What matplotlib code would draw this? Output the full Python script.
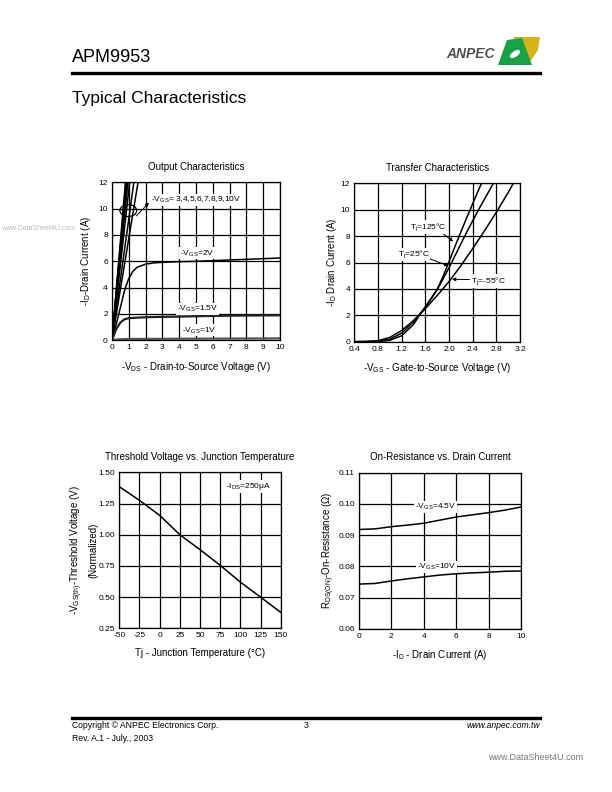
import numpy as np
import matplotlib
matplotlib.use("Agg")
import matplotlib.pyplot as plt
from matplotlib.patches import Ellipse, Polygon

plt.rcParams['font.family'] = ['Liberation Sans', 'DejaVu Sans']
plt.rcParams['mathtext.fontset'] = 'custom'
plt.rcParams['mathtext.rm'] = 'Liberation Sans'
plt.rcParams['mathtext.it'] = 'Liberation Sans:italic'
plt.rcParams['mathtext.default'] = 'regular'
plt.rcParams['axes.unicode_minus'] = False

W, H = 612, 792

# --- Output characteristics (VDS in V, ID in A)
vds = [0, 0.25, 0.5, 0.75, 1, 1.25, 1.5, 2, 2.5, 3, 4, 5, 6, 7, 8, 9, 10]
id_vgs2 = [0, 1.2, 2.5, 3.8, 4.7, 5.25, 5.55, 5.78, 5.88, 5.92, 5.97, 6.0, 6.05, 6.1, 6.15, 6.2, 6.25]
id_vgs15 = [0, 0.85, 1.35, 1.6, 1.68, 1.7, 1.72, 1.75, 1.77, 1.78, 1.8, 1.83, 1.85, 1.87, 1.88, 1.89, 1.9]
id_vgs1 = [0, 0.06, 0.08, 0.09, 0.1, 0.1, 0.1, 0.11, 0.11, 0.11, 0.12, 0.12, 0.13, 0.13, 0.14, 0.14, 0.15]
vgs_high = [3, 4, 5, 6, 7, 8, 9, 10]
vds_at_12a = [1.55, 1.3, 1.05, 0.95, 0.9, 0.86, 0.83, 0.8]

# --- Transfer characteristics (VGS in V, ID in A)
vgs_125 = [0.4, 0.6, 0.8, 1.0, 1.2, 1.4, 1.5, 1.6, 1.7, 1.8, 1.9, 2.0, 2.1, 2.2, 2.3, 2.4, 2.5, 2.6]
id_125 = [0, 0, 0.01, 0.1, 0.45, 1.3, 2.0, 2.65, 3.3, 3.95, 4.95, 6.05, 7.2, 8.3, 9.4, 10.45, 11.5, 12.5]
vgs_25 = [0.4, 0.6, 0.8, 1.0, 1.2, 1.4, 1.5, 1.6, 1.7, 1.8, 1.9, 2.0, 2.1, 2.2, 2.3, 2.4, 2.5, 2.6, 2.7, 2.8]
id_25 = [0, 0.005, 0.03, 0.18, 0.65, 1.5, 2.05, 2.6, 3.25, 3.95, 4.75, 5.6, 6.5, 7.4, 8.3, 9.15, 10.0, 10.8, 11.6, 12.4]
vgs_m55 = [0.4, 0.6, 0.8, 1.0, 1.2, 1.4, 1.5, 1.6, 1.8, 2.0, 2.2, 2.4, 2.6, 2.8, 3.0, 3.1]
id_m55 = [0.005, 0.02, 0.08, 0.32, 0.85, 1.6, 2.05, 2.5, 3.5, 4.55, 5.75, 7.05, 8.4, 9.8, 11.3, 12.1]

# --- Threshold voltage vs junction temperature
tj = [-50, -25, 0, 25, 50, 75, 100, 125, 150]
vth_norm = [1.385, 1.275, 1.155, 1.0, 0.88, 0.755, 0.62, 0.5, 0.378]

# --- On-resistance vs drain current
id_a = [0, 1, 2, 3, 4, 5, 6, 7, 8, 9, 10]
rds_45 = [0.0918, 0.092, 0.0927, 0.0932, 0.0938, 0.0948, 0.0958, 0.0965, 0.0972, 0.098, 0.099]
rds_10 = [0.0743, 0.0745, 0.0753, 0.076, 0.0766, 0.0772, 0.0776, 0.0779, 0.0781, 0.0784, 0.0785]


def px(x, y):
    return x / W, 1 - y / H


def box(l, t, r, b):
    return [l / W, 1 - b / H, (r - l) / W, (b - t) / H]


def style(ax, title):
    ax.grid(True, color='k', lw=0.9)
    ax.tick_params(length=0, labelsize=6, pad=3)
    for s in ax.spines.values():
        s.set_linewidth(0.9)
    ax.set_title(title, fontsize=7, pad=9)


lbl = dict(fontsize=6, ha='center', va='center', zorder=5,
           bbox=dict(fc='white', ec='none', pad=0.6))
arr = dict(arrowstyle='-|>', lw=0.7, color='k', mutation_scale=5, shrinkA=0, shrinkB=0)

fig = plt.figure(figsize=(W / 100, H / 100), dpi=100)

# header
fig.text(*px(72, 57), "APM9953", fontsize=13, va='center', ha='left')
fig.add_artist(plt.Line2D([72 / W, 540 / W], [1 - 72.5 / H] * 2, color='k', lw=2.4))
fig.text(*px(72, 99), "Typical Characteristics", fontsize=12.5, va='center', ha='left')
fig.text(*px(495, 54), "ANPEC", fontsize=10, style='italic', weight='bold', color='#505050',
         ha='right', va='center')
fig.add_artist(Polygon([px(513, 37), px(540, 37), px(538, 50), px(530, 62)],
                       closed=True, fc='#d4b21c', ec='none', transform=fig.transFigure))
fig.add_artist(Polygon([px(498, 65), px(507, 40), px(522, 38), px(532, 65)],
                       closed=True, fc='#1aa047', ec='none', transform=fig.transFigure))
fig.add_artist(Ellipse(px(515, 54), 11 / W, 6 / H, angle=25, fc='white', ec='none',
                       transform=fig.transFigure))
fig.text(*px(1, 228), "www.DataSheet4U.com", fontsize=5, color='#bbbbbb', va='center', ha='left')

# Output characteristics
ax1 = fig.add_axes(box(112, 182.3, 280, 340.3))
style(ax1, "Output Characteristics")
for xe in vds_at_12a:
    ax1.plot([0, xe * 1.05], [0, 12 * 1.05], color='k', lw=1.1)
ax1.plot(vds, id_vgs2, color='k', lw=1.1)
ax1.plot(vds, id_vgs15, color='#222222', lw=1.6)
ax1.plot(vds, id_vgs1, color='#555555', lw=1.6)
ax1.set_xlim(0, 10)
ax1.set_ylim(0, 12)
ax1.set_xticks(range(0, 11))
ax1.set_yticks(range(0, 13, 2))
ax1.add_patch(Ellipse((0.97, 9.85), 1.0, 0.9, fill=False, lw=0.9, ec='k'))
ax1.annotate("", xy=(2.2, 10.45), xytext=(1.45, 9.45), arrowprops=arr)
ax1.text(2.35, 10.65, "-V$_{GS}$= 3,4,5,6,7,8,9,10V", ha='left', va='center', fontsize=6, zorder=5,
         bbox=dict(fc='white', ec='none', pad=0.6))
ax1.text(5.05, 6.6, "-V$_{GS}$=2V", **lbl)
ax1.text(5.1, 2.35, "-V$_{GS}$=1.5V", **lbl)
ax1.text(5.2, 0.75, "-V$_{GS}$=1V", **lbl)
ax1.set_xlabel("-V$_{DS}$ - Drain-to-Source Voltage (V)", fontsize=7, labelpad=6)
ax1.set_ylabel("-I$_D$-Drain Current (A)", fontsize=7, labelpad=4)

# Transfer characteristics
ax2 = fig.add_axes(box(354.3, 183.3, 520, 341.7))
style(ax2, "Transfer Characteristics")
ax2.plot(vgs_125, id_125, color='k', lw=1.1)
ax2.plot(vgs_25, id_25, color='k', lw=1.1)
ax2.plot(vgs_m55, id_m55, color='k', lw=1.1)
ax2.set_xlim(0.4, 3.2)
ax2.set_ylim(0, 12)
ax2.set_xticks(np.arange(0.4, 3.21, 0.4))
ax2.set_xticklabels([f"{v:.1f}" for v in np.arange(0.4, 3.21, 0.4)])
ax2.set_yticks(range(0, 13, 2))
ax2.annotate("", xy=(2.07, 7.6), xytext=(1.85, 8.35), arrowprops=arr)
ax2.text(1.65, 8.7, "T$_j$=125°C", **lbl)
ax2.annotate("", xy=(1.99, 5.75), xytext=(1.6, 6.4), arrowprops=arr)
ax2.text(1.4, 6.6, "T$_j$=25°C", **lbl)
ax2.annotate("", xy=(2.05, 4.73), xytext=(2.42, 4.7), arrowprops=arr)
ax2.text(2.66, 4.6, "T$_j$=-55°C", **lbl)
ax2.set_xlabel("-V$_{GS}$ - Gate-to-Source Voltage (V)", fontsize=7, labelpad=6)
ax2.set_ylabel("-I$_D$ Drain Current (A)", fontsize=7, labelpad=1)

# Threshold voltage
ax3 = fig.add_axes(box(119.3, 472.3, 280.7, 628.3))
style(ax3, "Threshold Voltage vs. Junction Temperature")
ax3.plot(tj, vth_norm, color='k', lw=1.1)
ax3.set_xlim(-50, 150)
ax3.set_ylim(0.25, 1.5)
ax3.set_xticks(range(-50, 151, 25))
ax3.set_yticks(np.arange(0.25, 1.51, 0.25))
ax3.set_yticklabels([f"{v:.2f}" for v in np.arange(0.25, 1.51, 0.25)])
ax3.text(110, 1.385, "-I$_{DS}$=250μA", **lbl)
ax3.set_xlabel("Tj - Junction Temperature (°C)", fontsize=7, labelpad=6)
ax3.set_ylabel("-V$_{GS(th)}$-Threshold Voltage (V)\n(Normalized)", fontsize=7, labelpad=0,
               linespacing=1.4)

# On-resistance
ax4 = fig.add_axes(box(359, 472.7, 521, 628.7))
style(ax4, "On-Resistance vs. Drain Current")
ax4.plot(id_a, rds_45, color='k', lw=1.1)
ax4.plot(id_a, rds_10, color='k', lw=1.1)
ax4.set_xlim(0, 10)
ax4.set_ylim(0.06, 0.11)
ax4.set_xticks(range(0, 11, 2))
ax4.set_yticks(np.arange(0.06, 0.111, 0.01))
ax4.set_yticklabels([f"{v:.2f}" for v in np.arange(0.06, 0.111, 0.01)])
ax4.text(4.7, 0.0991, "-V$_{GS}$=4.5V", **lbl)
ax4.text(4.8, 0.0799, "-V$_{GS}$=10V", **lbl)
ax4.set_xlabel("-I$_D$ - Drain Current (A)", fontsize=7, labelpad=6)
ax4.set_ylabel("R$_{DS(ON)}$-On-Resistance (Ω)", fontsize=7, labelpad=1)

# footer
fig.add_artist(plt.Line2D([72 / W, 540 / W], [1 - 717.5 / H] * 2, color='k', lw=2.4))
fig.text(*px(72, 725.5), "Copyright © ANPEC Electronics Corp.", fontsize=6.2, va='center')
fig.text(*px(72, 738.5), "Rev. A.1 - July., 2003", fontsize=6.2, va='center')
fig.text(*px(306, 725.5), "3", fontsize=6.2, va='center', ha='center')
fig.text(*px(540, 725.5), "www.anpec.com.tw", fontsize=6.2, va='center', ha='right', style='italic')
fig.text(*px(583, 757), "www.DataSheet4U.com", fontsize=6.5, va='center', ha='right', color='#777777')

fig.savefig("out.png", dpi=100)
